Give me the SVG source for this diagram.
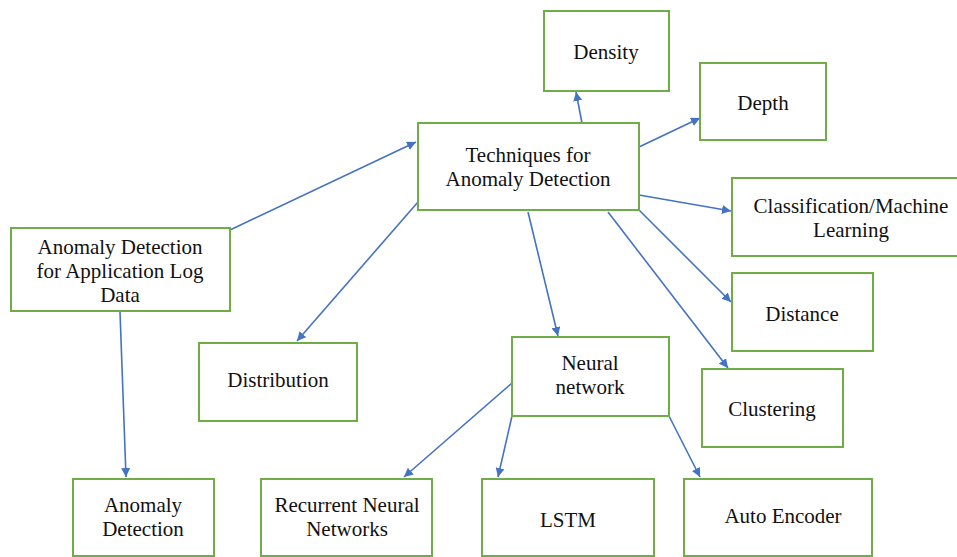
<svg xmlns="http://www.w3.org/2000/svg" width="957" height="557" viewBox="0 0 957 557">
<style>
.box{fill:#fff;stroke:#70ad47;stroke-width:2}
.t{font-family:"Liberation Serif","Times New Roman",Times,serif;font-size:21px;fill:#111;text-anchor:middle}
.c{stroke:#4472c4;stroke-width:1.6;fill:none;marker-end:url(#ah)}
</style>
<defs>
<marker id="ah" viewBox="0 0 10 10" refX="10" refY="5" markerWidth="9" markerHeight="9" markerUnits="userSpaceOnUse" orient="auto">
<path d="M0,0 L10,5 L0,10 z" fill="#4472c4"/>
</marker>
</defs>
<rect width="957" height="557" fill="#fff"/>
<g id="connectors">
<line class="c" x1="230" y1="230" x2="416" y2="142"/>
<line class="c" x1="120" y1="312" x2="126" y2="477"/>
<line class="c" x1="418" y1="202" x2="297" y2="341"/>
<line class="c" x1="582" y1="123" x2="576" y2="92"/>
<line class="c" x1="639" y1="147" x2="700" y2="118"/>
<line class="c" x1="639" y1="195" x2="731" y2="211"/>
<line class="c" x1="639" y1="210" x2="731" y2="302"/>
<line class="c" x1="608" y1="212" x2="728" y2="368"/>
<line class="c" x1="528" y1="212" x2="558" y2="336"/>
<line class="c" x1="512" y1="383" x2="404" y2="477"/>
<line class="c" x1="512" y1="416" x2="498" y2="477"/>
<line class="c" x1="669" y1="416" x2="700" y2="477"/>
</g>
<g id="density"><rect class="box" x="544" y="11" width="125" height="80"/><text class="t" x="606" y="59">Density</text></g>
<g id="techniques"><rect class="box" x="418" y="123" width="221" height="87"/><text class="t" x="528" y="162">Techniques for</text><text class="t" x="528" y="186">Anomaly Detection</text></g>
<g id="depth"><rect class="box" x="700" y="63" width="126" height="77"/><text class="t" x="763" y="110">Depth</text></g>
<g id="classification"><rect class="box" x="732" y="178" width="226" height="78"/><text class="t" x="851" y="213">Classification/Machine</text><text class="t" x="851" y="237">Learning</text></g>
<g id="distance"><rect class="box" x="732" y="273" width="141" height="78"/><text class="t" x="802" y="321">Distance</text></g>
<g id="clustering"><rect class="box" x="702" y="369" width="141" height="78"/><text class="t" x="772" y="416">Clustering</text></g>
<g id="neural"><rect class="box" x="512" y="337" width="157" height="79"/><text class="t" x="590" y="370">Neural</text><text class="t" x="590" y="394">network</text></g>
<g id="applog"><rect class="box" x="11" y="228" width="219" height="83"/><text class="t" x="120" y="254">Anomaly Detection</text><text class="t" x="120" y="278">for Application Log</text><text class="t" x="120" y="302">Data</text></g>
<g id="distribution"><rect class="box" x="199" y="343" width="158" height="78"/><text class="t" x="278" y="387">Distribution</text></g>
<g id="anomaly"><rect class="box" x="73" y="479" width="141" height="77"/><text class="t" x="143" y="512">Anomaly</text><text class="t" x="143" y="536">Detection</text></g>
<g id="rnn"><rect class="box" x="261" y="479" width="171" height="77"/><text class="t" x="347" y="512">Recurrent Neural</text><text class="t" x="347" y="536">Networks</text></g>
<g id="lstm"><rect class="box" x="482" y="479" width="172" height="77"/><text class="t" x="568" y="527">LSTM</text></g>
<g id="autoencoder"><rect class="box" x="684" y="479" width="188" height="77"/><text class="t" x="783" y="523">Auto Encoder</text></g>
</svg>
